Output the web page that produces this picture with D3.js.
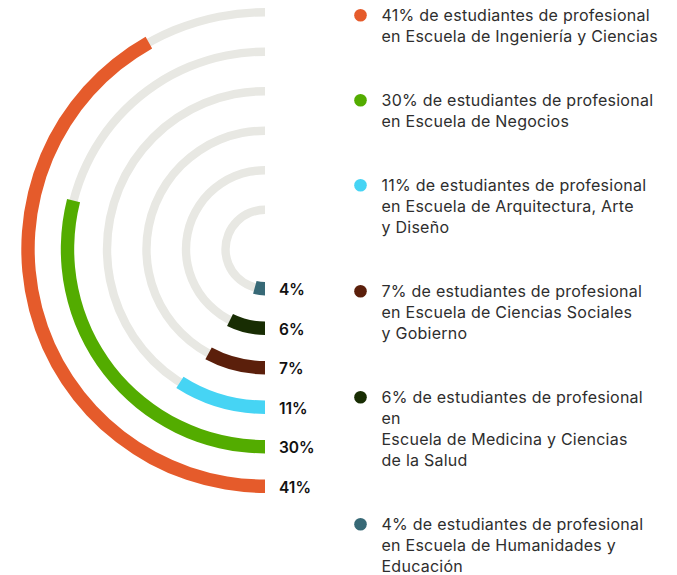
<!DOCTYPE html>
<html>
<head>
<meta charset="utf-8">
<script src="https://cdn.jsdelivr.net/npm/d3@7"></script>
<style>
  body { margin: 0; background: #fff; }
  svg { display: block; }
</style>
</head>
<body>
<svg id="chart" width="677" height="575"></svg>
<script>
// data, outer ring first
const values = [41, 30, 11, 7, 6, 4];
// share of each half ring that is filled
const filled = [0.837, 0.579, 0.181, 0.158, 0.146, 0.083];
const colors = ['#E55B2B', '#53AC00', '#46D4F4', '#5B1F0B', '#182D03', '#376976'];
const legendLines = [
  ['41% de estudiantes de profesional', 'en Escuela de Ingeniería y Ciencias'],
  ['30% de estudiantes de profesional', 'en Escuela de Negocios'],
  ['11% de estudiantes de profesional', 'en Escuela de Arquitectura, Arte', 'y Diseño'],
  ['7% de estudiantes de profesional', 'en Escuela de Ciencias Sociales', 'y Gobierno'],
  ['6% de estudiantes de profesional', 'en', 'Escuela de Medicina y Ciencias', 'de la Salud'],
  ['4% de estudiantes de profesional', 'en Escuela de Humanidades y', 'Educación']
];

const svg = d3.select('#chart');
const font = 'Inter, "Noto Sans", sans-serif';

const cx = 265, cy = 249.2;

// ring radius by index (outer = 0)
const rScale = d3.scaleLinear()
  .domain([0, values.length - 1])
  .range([237, 39.5]);

// filled share -> angle, starting at the bottom and going round the left side
const angle = d3.scaleLinear()
  .domain([0, 1])
  .range([Math.PI, 2 * Math.PI]);

const rings = svg.append('g')
  .attr('transform', `translate(${cx},${cy})`);

const bgArc = d3.arc()
  .innerRadius(d => rScale(d.i) - 4.2)
  .outerRadius(d => rScale(d.i) + 4.2)
  .startAngle(angle(0))
  .endAngle(angle(1));

const valArc = d3.arc()
  .innerRadius(d => rScale(d.i) - 6.7)
  .outerRadius(d => rScale(d.i) + 6.7)
  .startAngle(angle(0))
  .endAngle(d => angle(d.f));

const rows = values.map((v, i) => ({ v, i, f: filled[i], c: colors[i] }));

rings.selectAll('path.bg')
  .data(rows)
  .join('path')
  .attr('class', 'bg')
  .attr('d', bgArc)
  .attr('fill', '#E8E8E3');

rings.selectAll('path.val')
  .data(rows)
  .join('path')
  .attr('class', 'val')
  .attr('d', valArc)
  .attr('fill', d => d.c);

rings.selectAll('text.pct')
  .data(rows)
  .join('text')
  .attr('class', 'pct')
  .attr('x', 14)
  .attr('y', d => rScale(d.i))
  .attr('dy', '0.42em')
  .attr('font-family', font)
  .attr('font-weight', 600)
  .attr('font-size', '15.5px')
  .attr('fill', '#111')
  .text(d => d.v + '%');

// legend
const lineH = 21, groupGap = 64;
let y0 = 20.7;
const legend = svg.append('g');
legendLines.forEach((lines, i) => {
  const g = legend.append('g')
    .attr('transform', `translate(0,${y0})`);
  g.append('circle')
    .attr('cx', 360.5)
    .attr('cy', -5.5)
    .attr('r', 6.3)
    .attr('fill', colors[i]);
  g.selectAll('text')
    .data(lines)
    .join('text')
    .attr('x', 381.5)
    .attr('y', (d, j) => j * lineH)
    .attr('font-family', font)
    .attr('font-size', '16px')
    .attr('letter-spacing', '0.25px')
    .attr('fill', '#2e2e2e')
    .text(d => d);
  y0 += (lines.length - 1) * lineH + groupGap;
});
</script>
</body>
</html>
